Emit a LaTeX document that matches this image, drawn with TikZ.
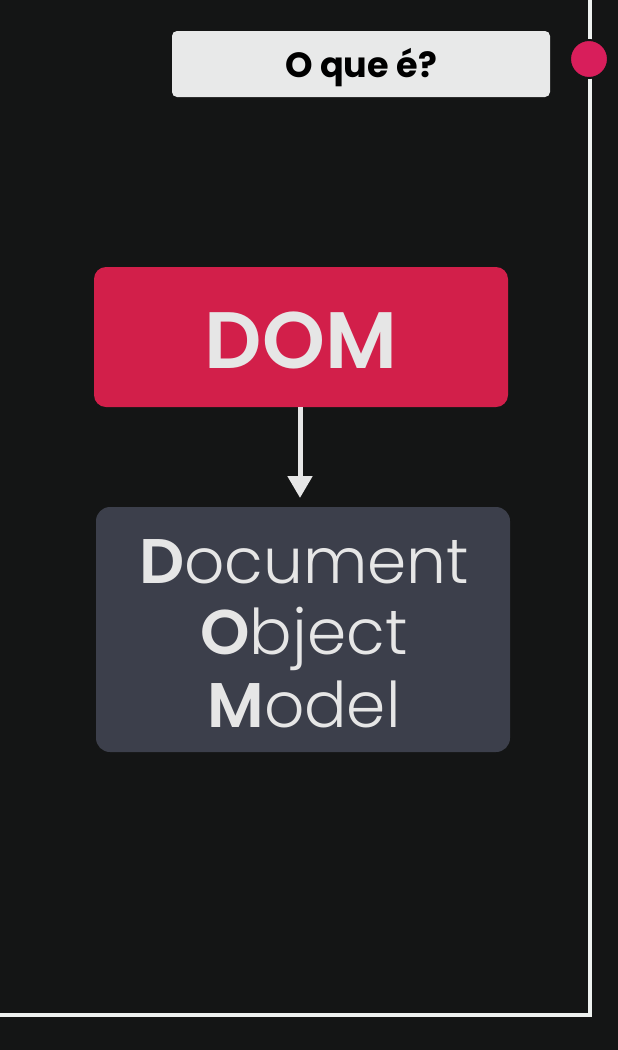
\documentclass[tikz,border=0pt]{standalone}
\usepackage{fontspec}
\setmainfont{Poppins}
\newfontfamily\boldfont{Poppins}[UprightFont=* SemiBold]
\newfontfamily\heavyfont{Poppins}[UprightFont=* Bold]
\newfontfamily\thinfont{Poppins}[UprightFont=* Light]
\usetikzlibrary{arrows.meta}
\definecolor{bg}{HTML}{141515}
\definecolor{frame}{HTML}{EEF1EF}
\definecolor{dotred}{HTML}{D81E5B}
\definecolor{domred}{HTML}{D21F4A}
\definecolor{slate}{HTML}{3C3F4B}
\definecolor{paper}{HTML}{E8E9E9}
\definecolor{ink}{HTML}{E6E6E6}
\tikzset{
  framepart/.style={draw=frame, line width=4pt},
  titlebox/.style={fill=paper, rounded corners=5pt, minimum width=378pt, minimum height=66pt, inner sep=0pt},
  acrobox/.style={fill=domred, rounded corners=12pt, minimum width=414pt, minimum height=140pt, inner sep=0pt},
  expandbox/.style={fill=slate, rounded corners=14pt, minimum width=414pt, minimum height=245pt, inner sep=0pt},
  textline/.style={text=ink, inner sep=0pt, anchor=base},
  link/.style={draw=ink, line width=5pt, -{Triangle[length=22pt,width=24pt]}},
}
\begin{document}
\begin{tikzpicture}[x=1pt,y=-1pt]
  \fill[bg] (0,0) rectangle (618,1050);
  \useasboundingbox (0,0) rectangle (618,1050);
  % outer frame
  \draw[framepart] (590,0) -- (590,1015) -- (0,1015);
  \node[circle, fill=dotred, draw=bg, line width=2pt, minimum size=38pt, inner sep=0pt] (dot) at (589,59) {};
  % title
  \node[titlebox] (title) at (361,64) {};
  \node[inner sep=0pt, anchor=base] (titletext) at (361,77) {\fontsize{35pt}{35pt}\heavyfont O que é?};
  % acronym box
  \node[acrobox] (dom) at (301,337) {};
  \node[textline] (domtext) at (301,368) {\fontsize{80pt}{80pt}\boldfont DOM};
  % expansion box
  \node[expandbox] (full) at (303,629.5) {};
  \node[textline] (l1) at (304,583) {\fontsize{63pt}{63pt}{\boldfont D}\thinfont ocument};
  \node[textline] (l2) at (304,654) {\fontsize{63pt}{63pt}{\boldfont O}\thinfont bject};
  \node[textline] (l3) at (304,727) {\fontsize{63pt}{63pt}{\boldfont M}\thinfont odel};
  % connector
  \draw[link] (dom.south -| 300,0) -- (300,498);
\end{tikzpicture}
\end{document}
